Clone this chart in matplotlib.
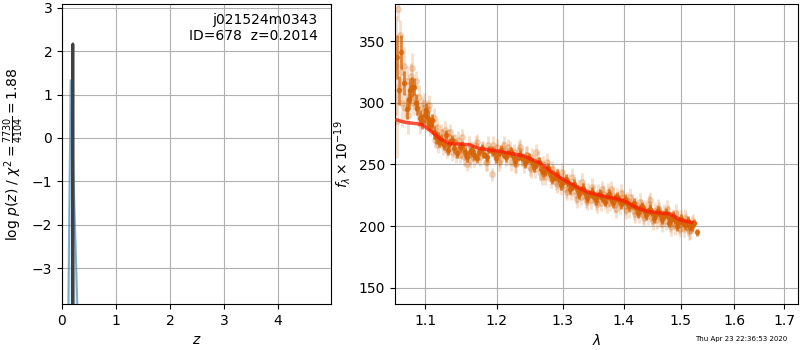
import numpy as np
import matplotlib
matplotlib.use("Agg")
import matplotlib.pyplot as plt
from matplotlib.ticker import FixedLocator, NullLocator, NullFormatter, FormatStrFormatter

# p(z) panel
z_coarse = [0.05, 0.16, 0.36]
logpz_coarse = [-12.0, 1.33, -7.0]
z_fine = [0.195, 0.2014, 0.207]
logpz_fine = [-12.0, 2.17, -12.0]

# binned spectrum (two interleaved exposures)
wave_bin = [1.063, 1.066, 1.069, 1.072, 1.076, 1.080, 1.083, 1.086, 1.089, 1.093,
            1.100, 1.104, 1.108, 1.112, 1.117, 1.122, 1.128, 1.133, 1.139, 1.147,
            1.154, 1.161, 1.168, 1.175, 1.182, 1.189, 1.196, 1.203, 1.210, 1.217,
            1.224, 1.231, 1.238, 1.245, 1.252, 1.259, 1.266, 1.273, 1.280, 1.287,
            1.294, 1.301, 1.308, 1.315, 1.322, 1.329, 1.336, 1.343, 1.350, 1.357,
            1.364, 1.371, 1.378, 1.385, 1.392, 1.399, 1.406, 1.413, 1.420, 1.427,
            1.434, 1.441, 1.448, 1.455, 1.462, 1.469, 1.476, 1.483, 1.490, 1.497,
            1.504, 1.511, 1.517, 1.524, 1.530]
flux_bin = [337, 310, 341, 316, 295, 310, 313, 313, 296, 288,
            290, 288, 282, 276, 272, 270, 274, 267, 263, 264,
            260, 260, 258, 260, 258, 262, 260, 259, 258, 259,
            257, 256, 255, 254, 252, 250, 246, 244, 242, 240,
            238, 236, 235, 232, 230, 229, 227, 226, 224, 225,
            223, 224, 222, 223, 221, 220, 219, 217, 215, 214,
            213, 212, 211, 210, 210, 209, 208, 206, 205, 204,
            203, 202, 199, 203, 195]
err_bin = [18, 12, 14, 10, 8, 10, 8, 7, 6, 6,
           6, 5, 5, 5, 4, 4, 4, 4, 4, 4,
           4, 4, 4, 3, 3, 3, 3, 3, 3, 3,
           3, 3, 3, 3, 3, 3, 3, 3, 3, 3,
           3, 3, 3, 3, 3, 3, 3, 3, 3, 3,
           3, 3, 3, 3, 3, 3, 3, 3, 3, 3,
           3, 3, 3, 3, 3, 3, 3, 3, 3, 3,
           3, 3, 3, 3, 3]

wave_bin2 = [1.0785, 1.0875, 1.0965, 1.1015, 1.1060, 1.1100, 1.1145, 1.1195, 1.1250, 1.1305,
             1.1360, 1.1430, 1.1505, 1.1575, 1.1645, 1.1715, 1.1785, 1.1855, 1.1925, 1.1995,
             1.2065, 1.2135, 1.2205, 1.2275, 1.2345, 1.2415, 1.2485, 1.2555, 1.2625, 1.2695,
             1.2765, 1.2835, 1.2905, 1.2975, 1.3045, 1.3115, 1.3185, 1.3255, 1.3325, 1.3395,
             1.3465, 1.3535, 1.3605, 1.3675, 1.3745, 1.3815, 1.3885, 1.3955, 1.4025, 1.4095,
             1.4165, 1.4235, 1.4305, 1.4375, 1.4445, 1.4515, 1.4585, 1.4655, 1.4725, 1.4795,
             1.4865, 1.4935, 1.5005, 1.5075, 1.5140, 1.5200]
flux_bin2 = [303, 300, 285, 294, 283, 286, 272, 268, 266, 262,
             270, 259, 265, 256, 262, 255, 263, 256, 261, 255,
             262, 256, 260, 253, 258, 251, 255, 248, 252, 244,
             247, 238, 242, 233, 238, 230, 234, 226, 231, 223,
             228, 221, 226, 220, 226, 219, 224, 218, 222, 216,
             219, 211, 216, 209, 214, 207, 212, 206, 211, 203,
             208, 200, 206, 201, 204, 200]
err_bin2 = [8, 7, 6, 6, 5, 5, 5, 4, 4, 4,
            4, 4, 4, 4, 4, 4, 4, 4, 4, 4,
            4, 4, 4, 4, 4, 4, 4, 4, 4, 4,
            4, 4, 4, 4, 4, 4, 4, 4, 4, 4,
            4, 4, 4, 4, 4, 4, 4, 4, 4, 4,
            4, 4, 4, 4, 4, 4, 4, 4, 4, 4,
            4, 4, 4, 4, 4, 4]

# unbinned spectrum
wave_raw = [1.062, 1.065, 1.067, 1.070, 1.072, 1.074, 1.076, 1.079, 1.081, 1.084,
            1.086, 1.088, 1.091, 1.094, 1.096, 1.099, 1.102, 1.104, 1.107, 1.110,
            1.113, 1.115, 1.118, 1.121, 1.124, 1.127, 1.130, 1.133, 1.136, 1.139,
            1.142, 1.145, 1.149, 1.153, 1.157, 1.160, 1.164, 1.168, 1.172, 1.176,
            1.180, 1.184, 1.188, 1.193, 1.197, 1.201, 1.205, 1.209, 1.213, 1.217,
            1.221, 1.225, 1.229, 1.233, 1.237, 1.241, 1.245, 1.249, 1.253, 1.257,
            1.261, 1.265, 1.269, 1.273, 1.277, 1.281, 1.285, 1.289, 1.293, 1.297,
            1.301, 1.305, 1.309, 1.313, 1.317, 1.321, 1.325, 1.329, 1.333, 1.337,
            1.341, 1.345, 1.349, 1.353, 1.357, 1.361, 1.365, 1.369, 1.373, 1.377,
            1.381, 1.385, 1.389, 1.393, 1.397, 1.401, 1.405, 1.409, 1.413, 1.417,
            1.421, 1.425, 1.429, 1.433, 1.437, 1.441, 1.445, 1.449, 1.453, 1.457,
            1.461, 1.465, 1.469, 1.473, 1.477, 1.481, 1.485, 1.489, 1.493, 1.497,
            1.501, 1.505, 1.509, 1.513, 1.517, 1.521]
flux_raw = [330, 376, 355, 300, 330, 296, 318, 305, 322, 300,
            305, 318, 292, 283, 296, 300, 284, 295, 280, 285,
            270, 275, 266, 276, 265, 278, 262, 272, 260, 268,
            258, 270, 262, 256, 250, 266, 262, 255, 268, 256,
            262, 252, 266, 242, 258, 264, 254, 262, 256, 264,
            252, 260, 250, 262, 256, 250, 258, 248, 256, 246,
            254, 244, 250, 240, 247, 238, 243, 236, 240, 232,
            238, 230, 236, 228, 233, 225, 231, 224, 229, 222,
            228, 221, 226, 220, 227, 219, 226, 221, 228, 219,
            225, 218, 224, 217, 223, 216, 221, 214, 219, 212,
            217, 210, 215, 209, 214, 208, 221, 207, 212, 205,
            213, 206, 211, 204, 210, 202, 207, 200, 205, 201,
            206, 198, 204, 199, 197, 201]
err_raw = [40, 10, 12, 20, 15, 12, 12, 12, 10, 10,
           10, 8, 8, 8, 8, 8, 7, 7, 7, 6,
           7, 7, 7, 7, 7, 7, 7, 7, 7, 7,
           7, 7, 7, 7, 5, 7, 7, 7, 7, 7,
           7, 7, 7, 5, 7, 7, 7, 7, 7, 7,
           7, 7, 7, 7, 7, 7, 7, 7, 7, 7,
           7, 7, 7, 7, 7, 7, 7, 7, 7, 7,
           7, 7, 7, 7, 7, 7, 7, 7, 7, 7,
           7, 7, 7, 7, 7, 7, 7, 7, 7, 7,
           7, 7, 7, 7, 7, 7, 7, 7, 7, 7,
           7, 7, 7, 7, 7, 7, 7, 7, 7, 7,
           7, 7, 7, 7, 7, 7, 7, 7, 7, 7,
           7, 7, 7, 7, 7, 7]

wave_raw2 = [1.0635, 1.0685, 1.0775, 1.0825, 1.0925, 1.0975, 1.1055, 1.1115, 1.1165, 1.1225,
             1.1285, 1.1345, 1.1405, 1.1470, 1.1510, 1.1550, 1.1620, 1.1700, 1.1780, 1.1860,
             1.1950, 1.2030, 1.2110, 1.2190, 1.2270, 1.2350, 1.2430, 1.2510, 1.2590, 1.2670,
             1.2750, 1.2830, 1.2910, 1.2990, 1.3070, 1.3150, 1.3230, 1.3310, 1.3390, 1.3470,
             1.3550, 1.3630, 1.3710, 1.3790, 1.3870, 1.3950, 1.4030, 1.4110, 1.4190, 1.4270,
             1.4350, 1.4430, 1.4510, 1.4590, 1.4670, 1.4750, 1.4830, 1.4910, 1.4990, 1.5070,
             1.5150, 1.5230]
flux_raw2 = [285, 325, 290, 328, 305, 290, 298, 288, 280, 272,
             266, 276, 268, 258, 272, 260, 254, 266, 262, 252,
             266, 252, 266, 262, 250, 264, 258, 246, 260, 240,
             252, 246, 234, 244, 228, 240, 222, 236, 220, 232,
             218, 230, 218, 230, 214, 227, 213, 224, 210, 220,
             207, 218, 204, 215, 202, 214, 199, 211, 198, 207,
             196, 203]
err_raw2 = [30, 15, 15, 12, 9, 9, 8, 8, 7, 7,
            7, 7, 7, 7, 7, 7, 7, 7, 7, 7,
            7, 7, 7, 7, 7, 7, 7, 7, 7, 7,
            7, 7, 7, 7, 7, 7, 7, 7, 7, 7,
            7, 7, 7, 7, 7, 7, 7, 7, 7, 7,
            7, 7, 7, 7, 7, 7, 7, 7, 7, 7,
            7, 7]

# model
wave_model = [1.063, 1.075, 1.090, 1.097, 1.106, 1.120, 1.133, 1.147, 1.161, 1.175,
              1.200, 1.220, 1.240, 1.265, 1.280, 1.300, 1.320, 1.340, 1.365, 1.390,
              1.405, 1.420, 1.440, 1.465, 1.480, 1.500, 1.520]
flux_model = [286, 284, 283, 282, 278, 271, 267, 266.5, 266, 263,
              261, 259, 257, 251, 245, 238, 232.5, 227.6, 224.4, 222,
              219.5, 215.5, 212, 210.6, 210, 205, 203]

spec_color = (0.84, 0.39, 0.02)

fig = plt.figure(figsize=(8, 3.5), dpi=100)

# left: p(z)
ax = fig.add_axes([62/800, 46/350, 269/800, 300/350])
ax.plot(z_coarse, logpz_coarse, color="#1f77b4", alpha=0.5, lw=1.5)
ax.fill_between(z_coarse, logpz_coarse, -20, color="#1f77b4", alpha=0.15)
ax.plot(z_fine, logpz_fine, color="0.25", lw=2)
ax.set_xlim(0, 4.98)
ax.set_ylim(-3.83, 3.09)
ax.set_xticks([0, 1, 2, 3, 4])
ax.set_yticks([-3, -2, -1, 0, 1, 2, 3])
ax.grid()
ax.set_xlabel("$z$")
ax.set_ylabel(r"log $p(z)$ / $\chi^2=\frac{7730}{4104}=1.88$")
ax.text(0.95, 0.97, "j021524m0343\nID=678  z=0.2014", ha="right", va="top",
        transform=ax.transAxes, fontsize=10)

# right: spectrum
ax2 = fig.add_axes([395/800, 46/350, 403/800, 300/350])
for w, f, e in [(wave_raw, flux_raw, err_raw), (wave_raw2, flux_raw2, err_raw2)]:
    ax2.errorbar(w, f, e, marker="o", ms=4, linestyle="none",
                 color=spec_color, alpha=0.2, elinewidth=2)
for w, f, e in [(wave_bin, flux_bin, err_bin), (wave_bin2, flux_bin2, err_bin2)]:
    ax2.errorbar(w, f, e, marker="o", ms=3, linestyle="none",
                 color=spec_color, alpha=0.75, elinewidth=2)
ax2.plot(wave_model, flux_model, color="#ff1a00", alpha=0.75, lw=2.5, zorder=10)
ax2.set_xscale("log")
ax2.set_xlim(1.0607, 1.729)
ax2.set_ylim(137, 380)
ax2.xaxis.set_major_locator(FixedLocator([1.1, 1.2, 1.3, 1.4, 1.5, 1.6, 1.7]))
ax2.xaxis.set_major_formatter(FormatStrFormatter("%.1f"))
ax2.xaxis.set_minor_locator(NullLocator())
ax2.xaxis.set_minor_formatter(NullFormatter())
ax2.set_yticks([150, 200, 250, 300, 350])
ax2.grid()
ax2.set_xlabel(r"$\lambda$")
ax2.set_ylabel(r"$f_\lambda \times 10^{-19}$")

fig.text(787/800, 11/350, "Thu Apr 23 22:36:53 2020", ha="right", va="center", fontsize=5)

fig.savefig("out.png", dpi=100)
